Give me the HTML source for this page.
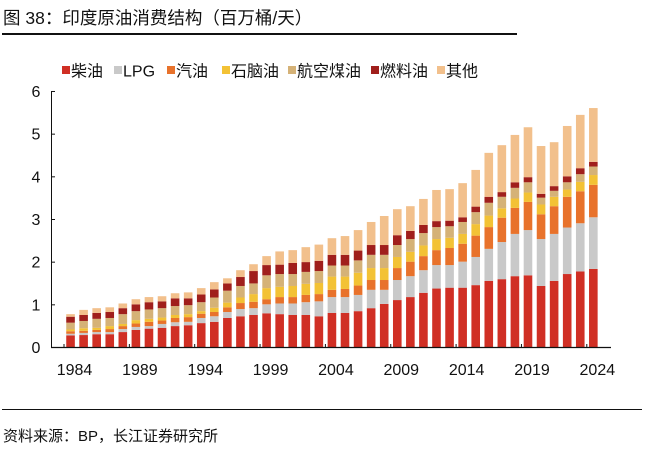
<!DOCTYPE html>
<html><head><meta charset="utf-8">
<style>
body{margin:0;background:#fff;}
svg text{font-family:"Liberation Sans","Noto Sans CJK SC",sans-serif;}
</style></head>
<body>
<svg id="chart" width="650" height="446" viewBox="0 0 650 446" xmlns="http://www.w3.org/2000/svg">
<text x="3" y="24" font-size="17.5" fill="#111">图 38：印度原油消费结构（百万桶/天）</text>
<rect x="2" y="33" width="515" height="2" fill="#111"/>
<g id="legend"></g>
<g id="plot"></g>
<rect x="2" y="409" width="640" height="1" fill="#111"/>
<text x="3" y="441" font-size="15" fill="#111">资料来源：BP，长江证券研究所</text>
</svg>
<script>
const years = [];
for (let y = 1984; y <= 2024; y++) years.push(y);
const seriesNames = ["柴油","LPG","汽油","石脑油","航空煤油","燃料油","其他"];
const diesel = [.27,.28,.30,.30,.35,.40,.43,.45,.49,.51,.56,.59,.68,.72,.75,.79,.77,.75,.75,.72,.80,.80,.84,.91,1.01,1.10,1.17,1.27,1.37,1.39,1.39,1.45,1.55,1.59,1.66,1.68,1.43,1.55,1.71,1.77,1.83];
const lpg = [.04,.05,.05,.05,.07,.07,.06,.09,.09,.08,.12,.13,.14,.17,.16,.21,.25,.27,.30,.35,.37,.37,.38,.43,.33,.47,.49,.53,.55,.53,.61,.66,.75,.87,.99,1.06,1.10,1.10,1.09,1.13,1.21];
const gasoline = [.06,.05,.05,.07,.07,.08,.10,.08,.10,.11,.10,.10,.11,.14,.15,.12,.15,.15,.17,.17,.17,.19,.22,.23,.23,.28,.34,.33,.35,.40,.42,.50,.51,.57,.61,.66,.58,.65,.72,.75,.76];
const naphtha = [.04,.06,.05,.07,.05,.08,.07,.07,.07,.07,.06,.10,.11,.13,.18,.26,.24,.26,.26,.26,.31,.29,.30,.28,.28,.26,.23,.25,.26,.24,.23,.27,.27,.22,.22,.22,.23,.22,.17,.22,.23];
const jet = [.16,.17,.21,.19,.23,.21,.22,.22,.21,.21,.21,.24,.28,.27,.25,.30,.30,.28,.28,.28,.26,.26,.29,.31,.31,.28,.30,.29,.28,.27,.28,.28,.30,.27,.25,.24,.16,.14,.17,.18,.20];
const fuelOil = [.14,.14,.14,.14,.14,.16,.17,.16,.18,.16,.18,.19,.17,.21,.29,.24,.22,.26,.23,.24,.25,.25,.23,.23,.23,.23,.19,.19,.14,.13,.11,.13,.14,.11,.13,.12,.09,.11,.14,.14,.11];
const other = [.06,.12,.11,.11,.11,.12,.12,.12,.12,.14,.15,.17,.12,.16,.16,.21,.31,.30,.35,.38,.39,.44,.48,.54,.68,.61,.58,.61,.73,.74,.80,.86,1.03,1.10,1.11,1.17,1.12,1.03,1.18,1.25,1.26];
const yTicks = [0,1,2,3,4,5,6];
const xTickYears = [1984,1989,1994,1999,2004,2009,2014,2019,2024];

const allSeries = [diesel,lpg,gasoline,naphtha,jet,fuelOil,other];
const colors = ["#d02f24","#c9c9c9","#e8722b","#f3c235","#d5b277","#a01f1c","#f2c08c"];
const NS = "http://www.w3.org/2000/svg";
const x0 = 64, step = 13.07, barW = 8.6;
const yBase = 347, pxPerUnit = 42.67;
function xScale(i){ return x0 + step * (i + 0.5); }
function yScale(v){ return yBase - v * pxPerUnit; }
function mk(tag, attrs, parent){
  const e = document.createElementNS(NS, tag);
  for (const k in attrs) e.setAttribute(k, attrs[k]);
  parent.appendChild(e);
  return e;
}
const plot = document.getElementById('plot');
const legend = document.getElementById('legend');

// bars
years.forEach((yr, i) => {
  let cum = 0;
  allSeries.forEach((s, k) => {
    const v = s[i];
    const r = mk('rect', {x: xScale(i) - barW/2, y: yScale(cum + v), width: barW, height: v * pxPerUnit, fill: colors[k]}, plot);
    
    
    cum += v;
  });
});

// axes
const yAxis = mk('line', {x1: 51.5, y1: yScale(6), x2: 51.5, y2: yBase, stroke: '#111', 'stroke-width': 1}, plot);


const xAxis = mk('line', {x1: 51, y1: yBase + 0.5, x2: 611, y2: yBase + 0.5, stroke: '#111', 'stroke-width': 1.2}, plot);



yTicks.forEach(t => {
  const ln = mk('line', {x1: 51.5, y1: yScale(t) + 0.5, x2: 55, y2: yScale(t) + 0.5, stroke: '#111'}, plot);
  
  
  const tx = mk('text', {x: 36, y: yScale(t) + 6, 'font-size': 16, 'text-anchor': 'middle', fill: '#111'}, plot);
  tx.textContent = t;
  
  
});

xTickYears.forEach(yr => {
  const i = years.indexOf(yr);
  const tx0 = x0 + step * i;
  const ln = mk('line', {x1: tx0, y1: yBase, x2: tx0, y2: yBase - 3, stroke: '#111'}, plot);
  
  
  const tx = mk('text', {x: xScale(i) + 4, y: 375, 'font-size': 16, 'text-anchor': 'middle', fill: '#111'}, plot);
  tx.textContent = yr;
  
  
});

// legend
const legX = [62, 114, 167, 222, 288, 371, 437];
seriesNames.forEach((n, k) => {
  const sq = mk('rect', {x: legX[k], y: 66, width: 8, height: 8, fill: colors[k]}, legend);
  
  
  const tx = mk('text', {x: legX[k] + 9, y: 76.5, 'font-size': 16, fill: '#111'}, legend);
  tx.textContent = n;
  
  
});
</script>
</body></html>
